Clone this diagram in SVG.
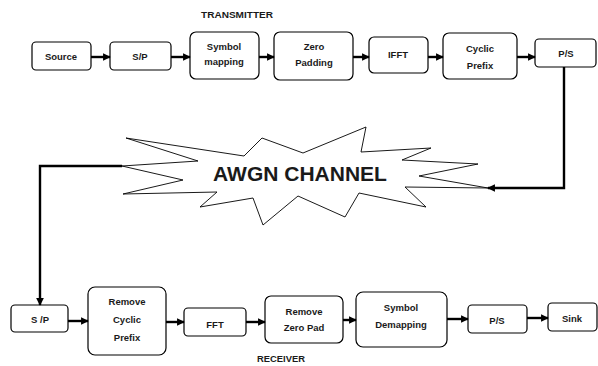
<svg xmlns="http://www.w3.org/2000/svg" width="598" height="366" viewBox="0 0 598 366">
  <style>
    .box { fill: #fff; stroke: #000; stroke-width: 1.2; }
    .lbl { font-family: "Liberation Sans", Arial, sans-serif; font-weight: bold; font-size: 9.5px; fill: #1a1a1a; text-anchor: middle; }
    .title { font-family: "Liberation Sans", Arial, sans-serif; font-weight: bold; font-size: 9.5px; fill: #1a1a1a; text-anchor: middle; }
    .wire { fill: none; stroke: #000; stroke-width: 2.4; }
  </style>
  <defs>
    <marker id="arrow" viewBox="0 0 10 10" refX="9" refY="5" markerWidth="3.2" markerHeight="3.2" orient="auto" markerUnits="strokeWidth">
      <path d="M0,0 L10,5 L0,10 z" fill="#000"/>
    </marker>
  </defs>
  <rect width="598" height="366" fill="#fff"/>

  <text class="title" x="237" y="18" textLength="72" lengthAdjust="spacingAndGlyphs">TRANSMITTER</text>
  <text class="title" x="281" y="362" textLength="48" lengthAdjust="spacingAndGlyphs">RECEIVER</text>

  <!-- transmitter chain -->
  <g id="tx-source"><rect class="box" x="32" y="42" width="59" height="28" rx="4"/><text class="lbl" x="61" y="60">Source</text></g>
  <g id="tx-sp"><rect class="box" x="110" y="42" width="61" height="28" rx="4"/><text class="lbl" x="140" y="60">S/P</text></g>
  <g id="tx-mapping"><rect class="box" x="190" y="32" width="69" height="47" rx="6"/><text class="lbl" x="224" y="50">Symbol</text><text class="lbl" x="224" y="65">mapping</text></g>
  <g id="tx-zeropad"><rect class="box" x="274" y="32" width="79" height="48" rx="6"/><text class="lbl" x="314" y="50">Zero</text><text class="lbl" x="314" y="66">Padding</text></g>
  <g id="tx-ifft"><rect class="box" x="369" y="37" width="59" height="36" rx="5"/><text class="lbl" x="398" y="58">IFFT</text></g>
  <g id="tx-cp"><rect class="box" x="443" y="33" width="74" height="46" rx="6"/><text class="lbl" x="480" y="52">Cyclic</text><text class="lbl" x="480" y="69">Prefix</text></g>
  <g id="tx-ps"><rect class="box" x="535" y="39" width="61" height="28" rx="4"/><text class="lbl" x="566" y="57">P/S</text></g>

  <!-- channel -->
  <g id="channel">
    <polygon fill="#fff" stroke="#000" stroke-width="0.9" points="126,138 244,156 262,138 303,153 366,127 361,152 431,148 402,160 478,164 419,176 488,188 405,187 426,207 359,193 345,217 298,196 263,225 253,198 200,207 217,192 123,194 183,180 122,166 198,161"/>
    <text x="300" y="181" font-family="'Liberation Sans', Arial, sans-serif" font-weight="bold" font-size="21" fill="#1a1a1a" text-anchor="middle">AWGN CHANNEL</text>
  </g>

  <!-- receiver chain -->
  <g id="rx-sp"><rect class="box" x="11" y="305" width="57" height="27" rx="4"/><text class="lbl" x="40" y="323">S /P</text></g>
  <g id="rx-cp"><rect class="box" x="88" y="287" width="78" height="68" rx="7"/><text class="lbl" x="127" y="305">Remove</text><text class="lbl" x="127" y="323">Cyclic</text><text class="lbl" x="127" y="341">Prefix</text></g>
  <g id="rx-fft"><rect class="box" x="184" y="308" width="62" height="28" rx="4"/><text class="lbl" x="215" y="328">FFT</text></g>
  <g id="rx-zeropad"><rect class="box" x="265" y="296" width="78" height="47" rx="6"/><text class="lbl" x="304" y="315">Remove</text><text class="lbl" x="304" y="331">Zero Pad</text></g>
  <g id="rx-demap"><rect class="box" x="356" y="292" width="91" height="55" rx="7"/><text class="lbl" x="401" y="311">Symbol</text><text class="lbl" x="401" y="328">Demapping</text></g>
  <g id="rx-ps"><rect class="box" x="468" y="305" width="59" height="28" rx="4"/><text class="lbl" x="497" y="324">P/S</text></g>
  <g id="rx-sink"><rect class="box" x="548" y="303" width="49" height="28" rx="4"/><text class="lbl" x="572" y="322">Sink</text></g>

  <!-- connectors -->
  <g id="connectors">
    <line class="wire" x1="91" y1="57" x2="110" y2="57" marker-end="url(#arrow)"/>
    <line class="wire" x1="171" y1="57" x2="190" y2="57" marker-end="url(#arrow)"/>
    <line class="wire" x1="259" y1="57" x2="274" y2="57" marker-end="url(#arrow)"/>
    <line class="wire" x1="353" y1="57" x2="369" y2="57" marker-end="url(#arrow)"/>
    <line class="wire" x1="428" y1="57" x2="443" y2="57" marker-end="url(#arrow)"/>
    <line class="wire" x1="517" y1="57" x2="535" y2="57" marker-end="url(#arrow)"/>
    <polyline class="wire" points="564,67 564,188 488,188" marker-end="url(#arrow)"/>
    <polyline class="wire" points="122,166 40,166 40,305" marker-end="url(#arrow)"/>
    <line class="wire" x1="68" y1="321" x2="88" y2="321" marker-end="url(#arrow)"/>
    <line class="wire" x1="166" y1="322" x2="184" y2="322" marker-end="url(#arrow)"/>
    <line class="wire" x1="246" y1="322" x2="265" y2="322" marker-end="url(#arrow)"/>
    <line class="wire" x1="343" y1="320" x2="356" y2="320" marker-end="url(#arrow)"/>
    <line class="wire" x1="447" y1="319" x2="468" y2="319" marker-end="url(#arrow)"/>
    <line class="wire" x1="527" y1="318" x2="548" y2="318" marker-end="url(#arrow)"/>
  </g>
</svg>
